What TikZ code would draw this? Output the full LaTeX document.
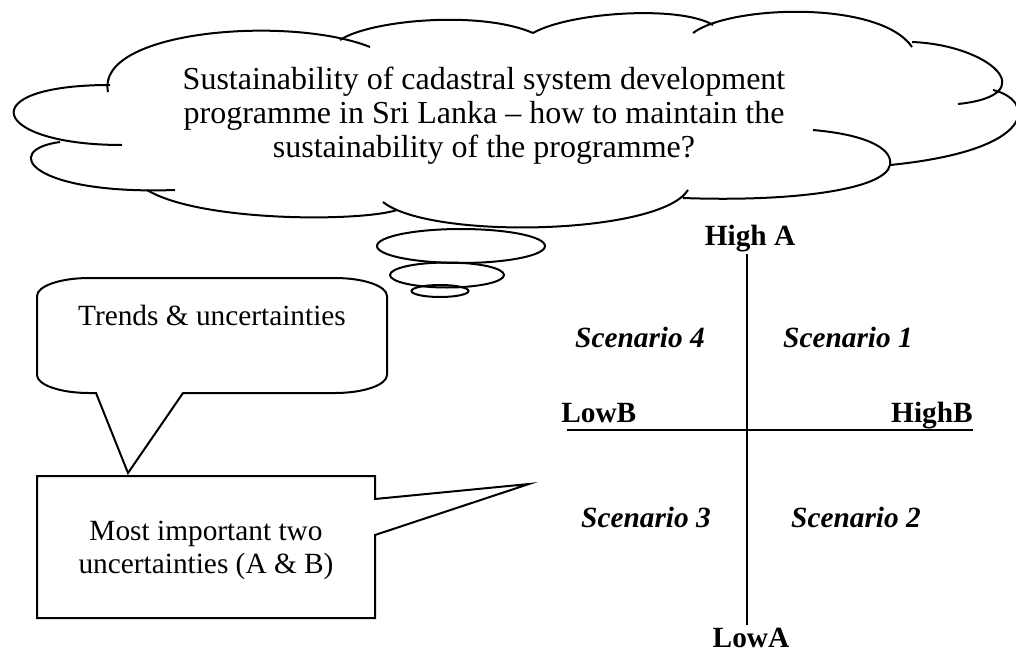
\documentclass[tikz,border=0pt]{standalone}
\usepackage{fontspec}
\setmainfont{Liberation Serif}
\tikzset{
  outline/.style={draw=black,line width=1.5pt,line join=miter},
  axis/.style={draw=black,line width=2.2pt},
  cloudtext/.style={font=\fontsize{24}{25.5}\selectfont,inner sep=0pt,align=center},
  bodytext/.style={font=\fontsize{22}{24.75}\selectfont,inner sep=0pt,align=center},
  axislabel/.style={font=\fontsize{22}{24.75}\selectfont\bfseries,inner sep=0pt},
  scenario/.style={font=\fontsize{22}{24.75}\selectfont\bfseries\itshape,inner sep=0pt}
}

\begin{document}
\begin{tikzpicture}[x=0.75pt,y=-0.75pt]
  \useasboundingbox (0,0) rectangle (1016,653);

  % Thought cloud, one arc per bump, clockwise from the top left.
  \draw[outline] (108,92) .. controls (95,30) and (290,15) .. (370,47);
  \draw[outline] (340,40) .. controls (370,20) and (480,10) .. (533,33);
  \draw[outline] (533,33) .. controls (570,12) and (680,5) .. (713,25);
  \draw[outline] (693,33) .. controls (730,5) and (880,0) .. (912,47);
  \draw[outline] (912,42) .. controls (990,45) and (1045,95) .. (958,104);
  \draw[outline] (993,90) .. controls (1035,100) and (1040,150) .. (890,165);
  \draw[outline] (813,130) .. controls (870,135) and (893,150) .. (890,165)
    .. controls (885,190) and (790,202) .. (683,198);
  \draw[outline] (688,190) .. controls (660,235) and (430,240) .. (383,202);
  \draw[outline] (397,210) .. controls (360,222) and (200,222) .. (147,190);
  \draw[outline] (60,142) .. controls (0,150) and (30,195) .. (175,190);
  \draw[outline] (122,145) .. controls (-10,145) and (-30,85) .. (110,85);
  % base anchor of a multi-line node sits on its last line
  \node[cloudtext,anchor=base] (question) at (484,157)
    {Sustainability of cadastral system development\\
     programme in Sri Lanka -- how to maintain the\\
     sustainability of the programme?};

  % Trailing bubbles under the cloud.
  \draw[outline] (461,246) ellipse [x radius=84,y radius=17];
  \draw[outline] (447,275) ellipse [x radius=57,y radius=12.5];
  \draw[outline] (440,291) ellipse [x radius=28.5,y radius=6];

  % Rounded callout pointing down to the box below.
  \draw[outline]
    (37,296) .. controls (37,286.1) and (60.3,278) .. (89,278)
    -- (335,278) .. controls (363.7,278) and (387,286.1) .. (387,296)
    -- (387,375) .. controls (387,384.9) and (363.7,393) .. (335,393)
    -- (183,393) -- (128,473) -- (96,393) -- (89,393)
    .. controls (60.3,393) and (37,384.9) .. (37,375) -- cycle;
  \node[bodytext,anchor=base] (trends) at (212,325) {Trends \& uncertainties};

  % Rectangular callout pointing at the scenario cross.
  \draw[outline] (37,476) -- (375,476) -- (375,499) -- (529,484)
    -- (375,535) -- (375,618) -- (37,618) -- cycle;
  \node[bodytext,anchor=base] (pair) at (206,573)
    {Most important two\\uncertainties (A \& B)};

  % Scenario cross.
  \coordinate (atop) at (747,254);
  \coordinate (abot) at (747,625);
  \coordinate (bleft) at (567,430);
  \coordinate (bright) at (973,430);
  \draw[axis] (atop) -- (abot);
  \draw[axis] (bleft) -- (bright);
  \node[axislabel,anchor=base] (higha) at (750,245) {High A};
  \node[axislabel,anchor=base] (lowa) at (751,647) {LowA};
  \node[axislabel,anchor=base west] (lowb) at (561,422) {LowB};
  \node[axislabel,anchor=base east] (highb) at (973,422) {HighB};

  \node[scenario,anchor=base] (sc4) at (640,347) {Scenario 4};
  \node[scenario,anchor=base] (sc1) at (848,347) {Scenario 1};
  \node[scenario,anchor=base] (sc3) at (646,527) {Scenario 3};
  \node[scenario,anchor=base] (sc2) at (856,527) {Scenario 2};
\end{tikzpicture}
\end{document}
